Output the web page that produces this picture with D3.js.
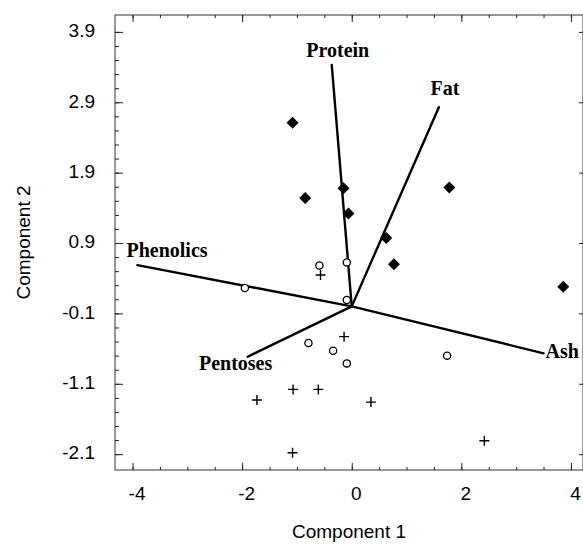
<!DOCTYPE html>
<html>
<head>
<meta charset="utf-8">
<script src="https://cdn.jsdelivr.net/npm/d3@7"></script>
<style>
  body { margin: 0; background: #fff; }
  svg { display: block; }
</style>
</head>
<body>
<div id="biplot"></div>
<script>
// scores, one array per group
const groupDiamond = [[-1.08, 2.61], [-0.85, 1.54], [-0.15, 1.68], [1.78, 1.69],
  [-0.06, 1.32], [0.63, 0.97], [0.77, 0.60], [3.86, 0.28]];
const groupCircle = [[-0.59, 0.58], [-0.09, 0.625], [-1.95, 0.26], [-0.09, 0.09],
  [-0.79, -0.52], [-0.34, -0.63], [-0.09, -0.81], [1.74, -0.70]];
const groupPlus = [[-0.57, 0.445], [-0.14, -0.43], [-1.07, -1.18], [-0.61, -1.18],
  [-1.73, -1.33], [-1.08, -2.08], [0.35, -1.36], [2.42, -1.91]];

// loading vectors
const variables = ['Protein', 'Fat', 'Phenolics', 'Ash', 'Pentoses'];
const loadX = [-0.365, 1.59, -3.91, 3.50, -1.90];
const loadY = [3.43, 2.83, 0.587, -0.667, -0.716];

const xTicks = [-4, -2, 0, 2, 4];
const yTicks = [-2.1, -1.1, -0.1, 0.9, 1.9, 2.9, 3.9];

const width = 583, height = 544;
const margin = {top: 15, right: 0, bottom: 74, left: 115};

const x = d3.scaleLinear().domain([-4.32, 4.22]).range([margin.left, width - margin.right]);
const y = d3.scaleLinear().domain([-2.325, 4.14]).range([height - margin.bottom, margin.top]);

const svg = d3.select('#biplot').append('svg')
  .attr('width', width).attr('height', height);

const sans = '"Liberation Sans", Arial, sans-serif';
const serif = '"Liberation Serif", "Times New Roman", serif';

// frame
svg.append('rect')
  .attr('x', margin.left).attr('y', margin.top)
  .attr('width', width - margin.right - margin.left)
  .attr('height', height - margin.bottom - margin.top)
  .attr('fill', 'none').attr('stroke', '#333').attr('stroke-width', 1);

const xMinor = d3.range(-4, 4.01, 0.5);
const yMinor = d3.range(-2.1, 3.91, 0.2).map(v => +v.toFixed(1));
const noLabel = () => '';

function clean(g) {
  g.select('.domain').remove();
  g.selectAll('line').attr('stroke', '#222');
}

// bottom
svg.append('g').attr('transform', `translate(0,${y.range()[0]})`)
  .call(d3.axisBottom(x).tickValues(xMinor).tickSize(-3).tickFormat(noLabel)).call(clean);
svg.append('g').attr('transform', `translate(0,${y.range()[0]})`)
  .call(d3.axisBottom(x).tickValues(xTicks).tickSize(-7).tickPadding(17).tickFormat(d => String(d)))
  .call(clean)
  .call(g => g.selectAll('text').attr('dx', 4).attr('font-size', 19)
    .attr('font-family', sans).attr('fill', '#000'));

// top
svg.append('g').attr('transform', `translate(0,${margin.top})`)
  .call(d3.axisTop(x).tickValues(xMinor).tickSize(-3).tickFormat(noLabel)).call(clean);
svg.append('g').attr('transform', `translate(0,${margin.top})`)
  .call(d3.axisTop(x).tickValues(xTicks).tickSize(-7).tickFormat(noLabel)).call(clean);

// left
svg.append('g').attr('transform', `translate(${margin.left},0)`)
  .call(d3.axisLeft(y).tickValues(yMinor).tickSize(-4).tickFormat(noLabel)).call(clean);
svg.append('g').attr('transform', `translate(${margin.left},0)`)
  .call(d3.axisLeft(y).tickValues(yTicks).tickSize(-8).tickPadding(20).tickFormat(d => d.toFixed(1)))
  .call(clean)
  .call(g => g.selectAll('text').attr('dy', '0.25em').attr('font-size', 19)
    .attr('font-family', sans).attr('fill', '#000'));

// right
svg.append('g').attr('transform', `translate(${width - margin.right},0)`)
  .call(d3.axisRight(y).tickValues(yTicks).tickSize(-4).tickFormat(noLabel)).call(clean);

// axis titles
svg.append('text')
  .attr('x', (margin.left + width - margin.right) / 2).attr('y', 538)
  .attr('text-anchor', 'middle').attr('font-family', sans).attr('font-size', 19)
  .text('Component 1');
svg.append('text')
  .attr('transform', `translate(30,${(margin.top + height - margin.bottom) / 2}) rotate(-90)`)
  .attr('text-anchor', 'middle').attr('font-family', sans).attr('font-size', 19)
  .text('Component 2');

// vectors
const labelPos = {
  Protein: {anchor: 'middle', dx: 6, dy: -8},
  Fat: {anchor: 'middle', dx: 6, dy: -12},
  Phenolics: {anchor: 'start', dx: -11, dy: -8},
  Ash: {anchor: 'start', dx: 2, dy: 5},
  Pentoses: {anchor: 'middle', dx: -12, dy: 13}
};
const vectors = variables.map((name, i) => ({name, x: loadX[i], y: loadY[i]}));

svg.append('g').selectAll('line').data(vectors).join('line')
  .attr('x1', x(0)).attr('y1', y(0))
  .attr('x2', d => x(d.x)).attr('y2', d => y(d.y))
  .attr('stroke', '#000').attr('stroke-width', 2.4).attr('stroke-linecap', 'round');

svg.append('g').selectAll('text').data(vectors).join('text')
  .attr('x', d => x(d.x) + labelPos[d.name].dx)
  .attr('y', d => y(d.y) + labelPos[d.name].dy)
  .attr('text-anchor', d => labelPos[d.name].anchor)
  .attr('font-family', serif).attr('font-weight', 'bold').attr('font-size', 20)
  .text(d => d.name);

// points
svg.append('g').selectAll('path').data(groupDiamond).join('path')
  .attr('transform', d => `translate(${x(d[0])},${y(d[1])}) rotate(45)`)
  .attr('d', d3.symbol(d3.symbolSquare, 72))
  .attr('fill', '#000');

svg.append('g').selectAll('circle').data(groupCircle).join('circle')
  .attr('cx', d => x(d[0])).attr('cy', d => y(d[1])).attr('r', 3.6)
  .attr('fill', '#fff').attr('stroke', '#000').attr('stroke-width', 1.3);

svg.append('g').selectAll('path').data(groupPlus).join('path')
  .attr('transform', d => `translate(${x(d[0])},${y(d[1])})`)
  .attr('d', 'M-5,0H5M0,-5V5')
  .attr('stroke', '#000').attr('stroke-width', 1.4).attr('fill', 'none');
</script>
</body>
</html>
